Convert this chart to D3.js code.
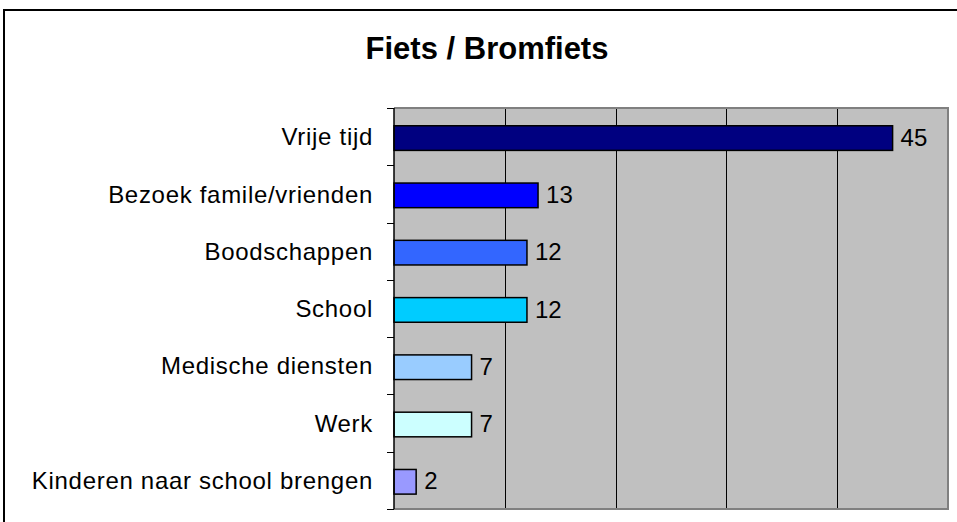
<!DOCTYPE html>
<html>
<head>
<meta charset="utf-8">
<script src="https://cdn.jsdelivr.net/npm/d3@7"></script>
<style>
  html, body { margin: 0; padding: 0; background: #ffffff; }
  svg { display: block; }
  text { font-family: "Liberation Sans", Arial, Helvetica, sans-serif; fill: #000; }
</style>
</head>
<body>
<svg id="chart" width="957" height="522"></svg>
<script>
// Trip purposes for bicycle / moped use
const categories = [
  "Vrije tijd",
  "Bezoek famile/vrienden",
  "Boodschappen",
  "School",
  "Medische diensten",
  "Werk",
  "Kinderen naar school brengen"
];
const values = [45, 13, 12, 12, 7, 7, 2];
const barColors = ["#000080", "#0000ff", "#3366ff", "#00ccff", "#99ccff", "#ccffff", "#9999ff"];
const xTicks = [0, 10, 20, 30, 40, 50];
const title = "Fiets / Bromfiets";

const svg = d3.select("#chart");

const plot = { left: 394, right: 948, top: 108, bottom: 509 };

// Outer chart frame (runs off the right and bottom edges)
svg.append("rect")
  .attr("x", 4).attr("y", 10)
  .attr("width", 1000).attr("height", 600)
  .attr("fill", "#ffffff")
  .attr("stroke", "#000")
  .attr("stroke-width", 2);

// Title
svg.append("text")
  .attr("x", 487).attr("y", 59)
  .attr("text-anchor", "middle")
  .style("font-size", "31px")
  .style("font-weight", "bold")
  .text(title);

const x = d3.scaleLinear().domain([0, 50]).range([plot.left, plot.right]);
const yCat = d3.scaleBand().domain(categories).range([plot.top, plot.bottom]).padding(0);

// Plot area background
svg.append("rect")
  .attr("x", plot.left).attr("y", plot.top)
  .attr("width", plot.right - plot.left)
  .attr("height", plot.bottom - plot.top)
  .attr("fill", "#c0c0c0");

// Vertical gridlines
svg.append("g")
  .selectAll("line")
  .data(xTicks.filter(t => t > 0 && t < 50))
  .join("line")
  .attr("x1", d => Math.round(x(d)) + 0.5)
  .attr("x2", d => Math.round(x(d)) + 0.5)
  .attr("y1", plot.top).attr("y2", plot.bottom)
  .attr("stroke", "#000")
  .attr("stroke-width", 1);

// Plot area border (top, right, bottom)
svg.append("path")
  .attr("d", `M${plot.left},${plot.top}H${plot.right}V${plot.bottom}H${plot.left}`)
  .attr("fill", "none")
  .attr("stroke", "#808080")
  .attr("stroke-width", 2);

// Bars
const barOffset = 0.31, barFrac = 0.43;
svg.append("g")
  .selectAll("rect")
  .data(categories)
  .join("rect")
  .attr("x", x(0))
  .attr("y", d => yCat(d) + yCat.bandwidth() * barOffset)
  .attr("width", (d, i) => x(values[i]) - x(0))
  .attr("height", yCat.bandwidth() * barFrac)
  .attr("fill", (d, i) => barColors[i])
  .attr("stroke", "#000")
  .attr("stroke-width", 1.5);

// Value labels
svg.append("g")
  .selectAll("text")
  .data(categories)
  .join("text")
  .attr("x", (d, i) => x(values[i]) + 8)
  .attr("y", d => yCat(d) + yCat.bandwidth() * (barOffset + barFrac / 2))
  .attr("dy", "0.32em")
  .style("font-size", "24px")
  .text((d, i) => values[i]);

// Category axis
const yAxis = d3.axisLeft(yCat).tickSize(0).tickPadding(21);
const gAxis = svg.append("g")
  .attr("transform", `translate(${plot.left},0)`)
  .call(yAxis);
gAxis.select(".domain").remove();
gAxis.selectAll("text")
  .attr("y", 0)
  .attr("dy", "0.3em")
  .attr("transform", `translate(0,${yCat.bandwidth() * (barOffset + barFrac / 2 - 0.5)})`)
  .style("font-size", "24px")
  .style("letter-spacing", "0.7px")
  .style("font-family", '"Liberation Sans", Arial, sans-serif');

// Axis line and tick marks at category boundaries
svg.append("line")
  .attr("x1", plot.left).attr("x2", plot.left)
  .attr("y1", plot.top).attr("y2", plot.bottom)
  .attr("stroke", "#000").attr("stroke-width", 1.5);
const boundaries = categories.map(c => yCat(c)).concat([yCat.range()[1]]);
svg.append("g")
  .selectAll("line")
  .data(boundaries)
  .join("line")
  .attr("x1", plot.left - 7).attr("x2", plot.left)
  .attr("y1", d => Math.round(d) + 0.5).attr("y2", d => Math.round(d) + 0.5)
  .attr("stroke", "#000").attr("stroke-width", 1);
</script>
</body>
</html>
